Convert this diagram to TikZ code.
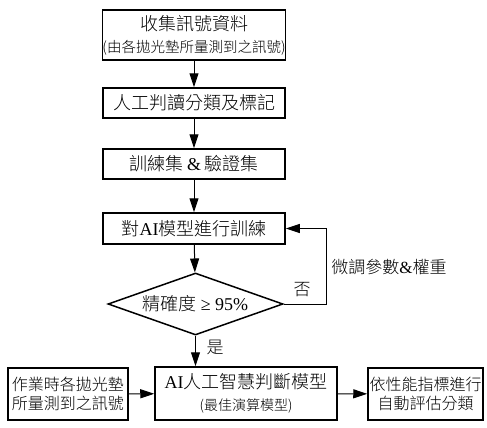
\documentclass[tikz,border=0pt]{standalone}
\usepackage{fontspec}
\setmainfont{Liberation Serif}
\IfFontExistsTF{Noto Sans CJK TC Light}
  {\newfontfamily\cj{Noto Sans CJK TC Light}}
  {\newfontfamily\cj{Noto Sans CJK TC}}
\newfontfamily\lat{Liberation Serif}
\usetikzlibrary{arrows.meta,shapes.geometric}
\begin{document}
\begin{tikzpicture}[x=1pt,y=-1pt,
  box/.style={draw,line width=1.5pt,inner sep=0pt,align=center,font=\cj\fontsize{18}{22}\selectfont},
  decision/.style={draw,diamond,aspect=2.8,line width=1.5pt,inner sep=0pt,font=\cj\fontsize{18}{22}\selectfont},
  conn/.style={line width=1pt,-{Triangle[length=14pt,width=9pt]}},
  lbl/.style={inner sep=0pt,font=\cj\fontsize{17}{20}\selectfont},
  sidebox/.style={box,font=\cj\fontsize{16}{19}\selectfont},
  ]
\useasboundingbox (0,0) rectangle (487,428);
\node[box,minimum width=182pt,minimum height=50pt] (b1) at (194,35)
  {收集訊號資料\\{\fontsize{14.5}{18}\selectfont (由各拋光墊所量測到之訊號)}};
\node[box,minimum width=182pt,minimum height=30pt] (b2) at (194,103) {人工判讀分類及標記};
\node[box,minimum width=182pt,minimum height=30pt] (b3) at (194,164) {訓練集 {\lat\&} 驗證集};
\node[box,minimum width=182pt,minimum height=31pt] (b4) at (194,228.5) {對{\lat AI}模型進行訓練};
\node[decision,minimum width=175pt,minimum height=62pt] (d) at (195.5,304) {精確度 {\lat ≥ 95\%}};
\node[box,minimum width=182pt,minimum height=53pt] (bm) at (246,393.5)
  {{\lat AI}人工智慧判斷模型\\{\fontsize{14}{17}\selectfont (最佳演算模型)}};
\node[sidebox,minimum width=120pt,minimum height=52pt] (bl) at (68,394) {作業時各拋光墊\\所量測到之訊號};
\node[sidebox,minimum width=115pt,minimum height=52pt] (br) at (425.5,394) {依性能指標進行\\自動評估分類};
\coordinate (fb) at (326,304);
\node[lbl] (no) at (302,290) {否};
\node[lbl] (tune) at (389,267) {微調參數{\lat\&}權重};
\node[lbl] (yes) at (215,347) {是};
\draw[conn] (b1) -- (b2);
\draw[conn] (b2) -- (b3);
\draw[conn] (b3) -- (b4);
\draw[conn] (b4) -- (d);
\draw[conn] (d.east) -- (fb) |- (b4.east);
\draw[conn] (d.south) -- (d.south |- bm.north);
\draw[conn] (bl) -- (bm);
\draw[conn] (bm) -- (br);
\end{tikzpicture}
\end{document}
